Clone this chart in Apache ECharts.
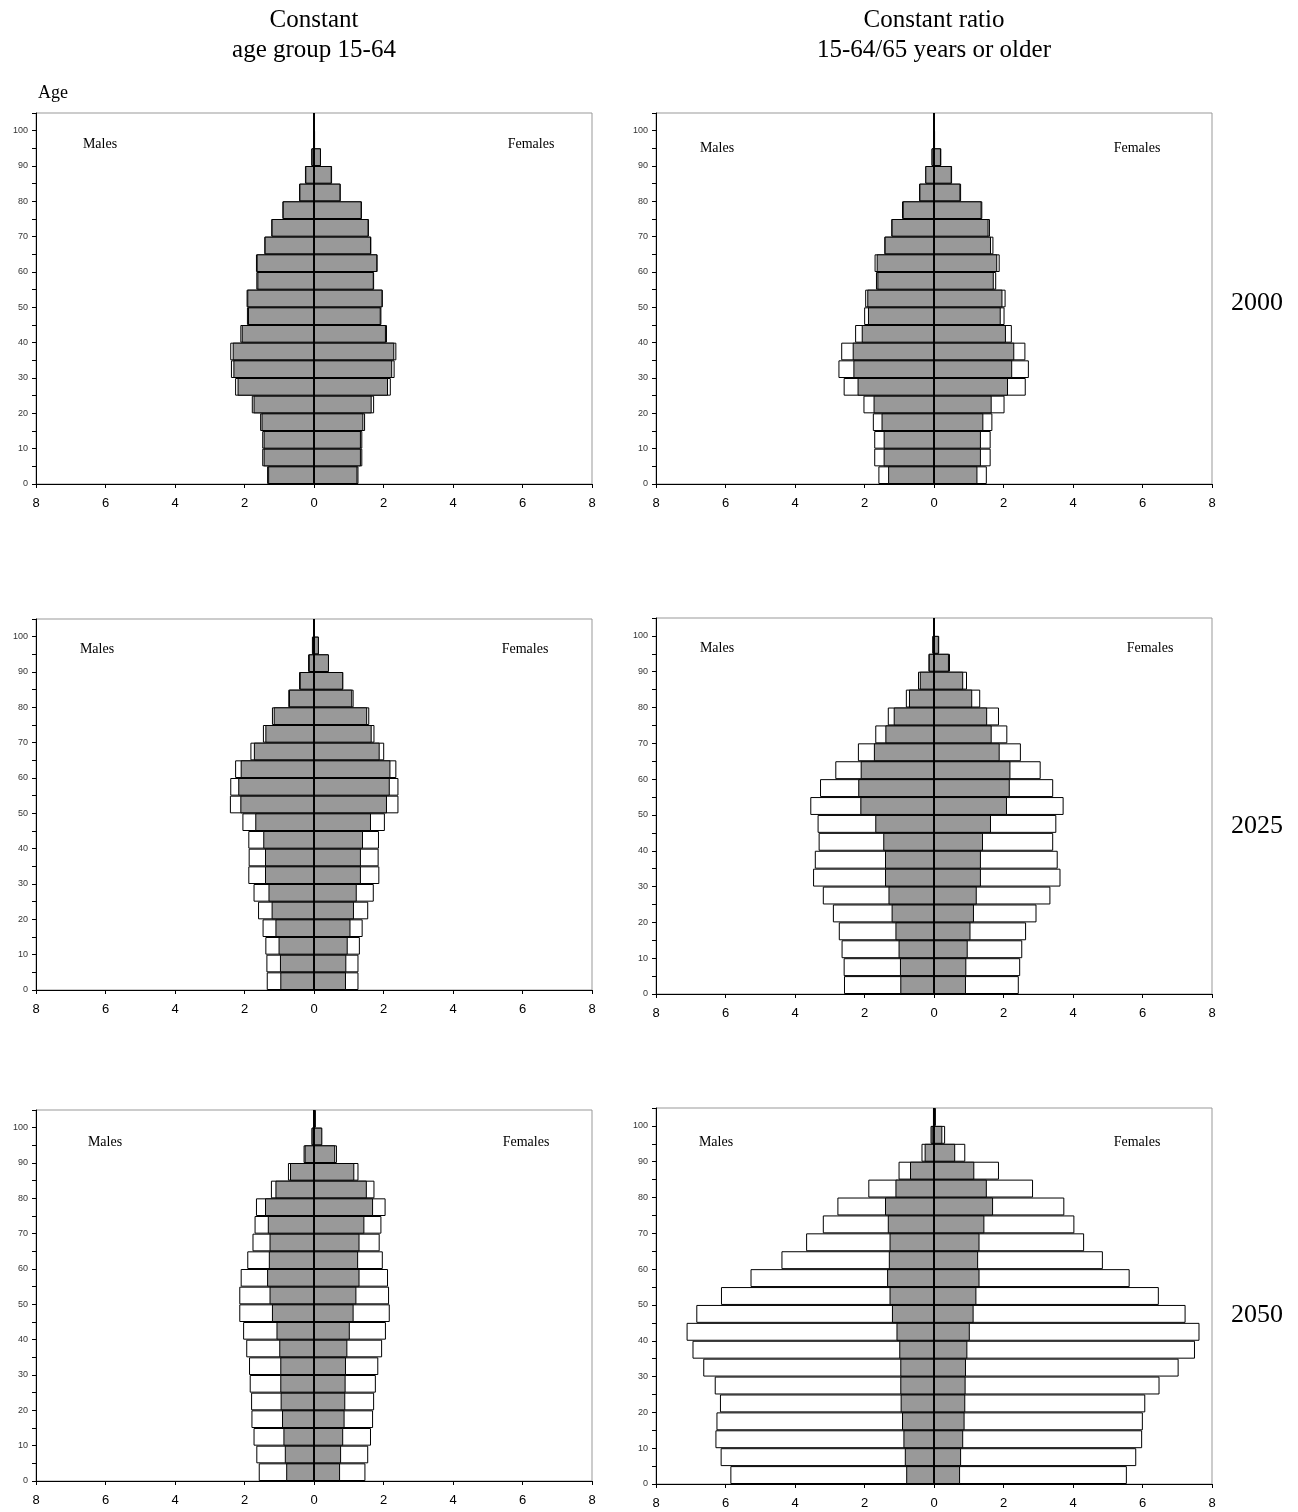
<!DOCTYPE html>
<html>
<head>
<meta charset="utf-8">
<script src="https://cdn.jsdelivr.net/npm/echarts@6/dist/echarts.min.js"></script>
<style>
html,body{margin:0;padding:0;background:#fff;}
#chart{width:1298px;height:1512px;}
</style>
</head>
<body>
<div id="chart"></div>
<script>
// Age groups (bottom to top), 5-year bands
const ageGroups = ['0-4','5-9','10-14','15-19','20-24','25-29','30-34','35-39','40-44','45-49',
  '50-54','55-59','60-64','65-69','70-74','75-79','80-84','85-89','90-94','95-99','100+'];

// Column and row labels
const columnTitles = [['Constant', 'age group 15-64'], ['Constant ratio', '15-64/65 years or older']];
const yearLabels = ['2000', '2025', '2050'];

// Base population (grey bars), % of total, by sex
const base2000Males   = [1.32,1.45,1.45,1.51,1.74,2.20,2.32,2.34,2.08,1.90,1.92,1.63,1.65,1.42,1.22,0.90,0.42,0.25,0.07,0.02,0.01];
const base2000Females = [1.25,1.35,1.35,1.42,1.66,2.13,2.25,2.31,2.07,1.92,1.97,1.72,1.82,1.64,1.57,1.37,0.76,0.51,0.20,0.03,0.01];
const base2025Males   = [0.97,0.98,1.02,1.11,1.22,1.31,1.41,1.41,1.46,1.69,2.12,2.18,2.11,1.73,1.40,1.16,0.72,0.41,0.15,0.05,0.01];
const base2025Females = [0.92,0.93,0.97,1.05,1.15,1.23,1.35,1.35,1.41,1.64,2.10,2.18,2.20,1.89,1.66,1.53,1.10,0.84,0.43,0.14,0.02];
const base2050Males   = [0.80,0.84,0.88,0.92,0.96,0.97,0.97,1.00,1.08,1.21,1.28,1.35,1.30,1.28,1.33,1.41,1.11,0.69,0.27,0.07,0.02];
const base2050Females = [0.75,0.78,0.84,0.88,0.90,0.91,0.92,0.96,1.03,1.14,1.22,1.31,1.27,1.31,1.45,1.70,1.52,1.16,0.61,0.24,0.05];

// Scenario: constant age group 15-64 (white bars)
const const2000Males   = [1.35,1.49,1.49,1.55,1.79,2.27,2.39,2.41,2.12,1.93,1.94,1.66,1.67,1.43,1.23,0.91,0.43,0.26,0.08,0.02,0.01];
const const2000Females = [1.28,1.39,1.39,1.47,1.73,2.21,2.32,2.37,2.10,1.94,1.98,1.73,1.83,1.65,1.58,1.38,0.77,0.52,0.20,0.03,0.01];
const const2025Males   = [1.36,1.37,1.40,1.48,1.61,1.74,1.89,1.88,1.89,2.06,2.42,2.41,2.27,1.83,1.47,1.21,0.74,0.43,0.17,0.06,0.01];
const const2025Females = [1.28,1.28,1.32,1.40,1.56,1.72,1.88,1.86,1.87,2.04,2.43,2.43,2.37,2.02,1.74,1.59,1.14,0.84,0.42,0.14,0.02];
const const2050Males   = [1.59,1.66,1.74,1.80,1.81,1.85,1.87,1.95,2.04,2.15,2.15,2.11,1.92,1.77,1.71,1.67,1.24,0.75,0.30,0.07,0.02];
const const2050Females = [1.48,1.56,1.64,1.70,1.73,1.78,1.85,1.96,2.07,2.18,2.16,2.13,1.98,1.89,1.94,2.06,1.74,1.28,0.66,0.23,0.05];

// Scenario: constant ratio 15-64 / 65+ (white bars)
const ratio2000Males   = [1.60,1.72,1.72,1.76,2.03,2.60,2.75,2.67,2.27,2.01,1.98,1.67,1.71,1.43,1.23,0.92,0.43,0.25,0.07,0.02,0.01];
const ratio2000Females = [1.52,1.63,1.63,1.68,2.03,2.64,2.73,2.63,2.24,2.03,2.06,1.79,1.89,1.71,1.61,1.39,0.78,0.52,0.21,0.03,0.01];
const ratio2025Males   = [2.59,2.60,2.66,2.74,2.91,3.20,3.48,3.43,3.32,3.35,3.56,3.28,2.84,2.19,1.69,1.33,0.81,0.46,0.16,0.04,0.01];
const ratio2025Females = [2.44,2.48,2.54,2.65,2.95,3.35,3.64,3.56,3.43,3.52,3.73,3.43,3.07,2.50,2.11,1.87,1.33,0.95,0.46,0.15,0.02];
const ratio2050Males   = [5.86,6.14,6.29,6.26,6.16,6.31,6.64,6.95,7.12,6.84,6.13,5.28,4.39,3.68,3.20,2.78,1.89,1.02,0.36,0.10,0.03];
const ratio2050Females = [5.55,5.82,5.99,6.01,6.08,6.49,7.04,7.51,7.64,7.24,6.47,5.63,4.86,4.32,4.04,3.75,2.85,1.87,0.90,0.32,0.05];

// Axis settings
const xMin = -8, xMax = 8, xInterval = 2;
const ageMin = 0, ageMax = 105, ageInterval = 5;

const panels = [
  {grid:{left:36, top:113, width:556, height:371}, bm:base2000Males, bf:base2000Females, sm:const2000Males, sf:const2000Females,
   males:[100,144], females:[531,144]},
  {grid:{left:656, top:113, width:556, height:371}, bm:base2000Males, bf:base2000Females, sm:ratio2000Males, sf:ratio2000Females,
   males:[717,148], females:[1137,148]},
  {grid:{left:36, top:619, width:556, height:371}, bm:base2025Males, bf:base2025Females, sm:const2025Males, sf:const2025Females,
   males:[97,649], females:[525,649]},
  {grid:{left:656, top:618, width:556, height:376}, bm:base2025Males, bf:base2025Females, sm:ratio2025Males, sf:ratio2025Females,
   males:[717,648], females:[1150,648]},
  {grid:{left:36, top:1110, width:556, height:371}, bm:base2050Males, bf:base2050Females, sm:const2050Males, sf:const2050Females,
   males:[105,1142], females:[526,1142]},
  {grid:{left:656, top:1108, width:556, height:376}, bm:base2050Males, bf:base2050Females, sm:ratio2050Males, sf:ratio2050Females,
   males:[716,1142], females:[1137,1142]}
];

const serif = '"Liberation Serif", "Times New Roman", serif';
const sans = '"Liberation Sans", Arial, sans-serif';

const option = {
  animation: false,
  backgroundColor: '#fff',
  grid: [], xAxis: [], yAxis: [], series: [], graphic: []
};

function textEl(x, y, t, size) {
  return {type:'text', x:x, y:y, silent:true,
    style:{text:t, font:size + 'px ' + serif, fill:'#000', textAlign:'center', textVerticalAlign:'middle', align:'center', verticalAlign:'middle'}};
}

panels.forEach((p, i) => {
  option.grid.push(Object.assign({show:true, borderColor:'#999', borderWidth:1, backgroundColor:'transparent'}, p.grid));
  option.xAxis.push({
    type:'value', gridIndex:i, min:xMin, max:xMax, interval:xInterval,
    axisLine:{show:true, onZero:false, lineStyle:{color:'#000', width:1}},
    axisTick:{show:true, length:4, lineStyle:{color:'#000'}},
    axisLabel:{formatter:v => String(Math.abs(v)), fontSize:13, fontFamily:sans, color:'#000', margin:13},
    splitLine:{show:false}
  });
  option.yAxis.push({
    type:'value', gridIndex:i, min:ageMin, max:ageMax, interval:ageInterval,
    axisLine:{show:true, onZero:false, lineStyle:{color:'#000', width:1}},
    axisTick:{show:true, length:4, lineStyle:{color:'#000'}},
    axisLabel:{formatter:v => (v % 10 === 0 ? String(v) : ''), fontSize:9, fontFamily:sans, color:'#333', margin:8},
    splitLine:{show:false}
  });
  option.yAxis.push({
    type:'category', gridIndex:i, data:ageGroups, show:false, boundaryGap:true
  });
  const yIdx = 2*i + 1;
  const barCommon = {type:'bar', xAxisIndex:i, yAxisIndex:yIdx, barGap:'-100%', barCategoryGap:'0%', silent:true};
  option.series.push(Object.assign({}, barCommon, {
    name:'scenM'+i, data:p.sm.map(v => -v),
    itemStyle:{color:'#fff', borderColor:'#000', borderWidth:1}
  }));
  option.series.push(Object.assign({}, barCommon, {
    name:'scenF'+i, data:p.sf.slice(),
    itemStyle:{color:'#fff', borderColor:'#000', borderWidth:1}
  }));
  option.series.push(Object.assign({}, barCommon, {
    name:'baseM'+i, data:p.bm.map(v => -v),
    itemStyle:{color:'#999999', borderColor:'#000', borderWidth:1}
  }));
  option.series.push(Object.assign({}, barCommon, {
    name:'baseF'+i, data:p.bf.slice(),
    itemStyle:{color:'#999999', borderColor:'#000', borderWidth:1},
    markLine:{silent:true, symbol:['none','none'], label:{show:false},
      lineStyle:{color:'#000', width:2, type:'solid'}, data:[{xAxis:0}]}
  }));
  option.graphic.push(textEl(p.males[0], p.males[1], 'Males', 14));
  option.graphic.push(textEl(p.females[0], p.females[1], 'Females', 14));
});

// Column titles
const titleX = [314, 934];
columnTitles.forEach((lines, c) => {
  lines.forEach((t, k) => {
    option.graphic.push(textEl(titleX[c], 20 + k*30, t, 25));
  });
});
// Year labels
const yearY = [303, 826, 1315];
yearLabels.forEach((t, r) => {
  option.graphic.push(textEl(1257, yearY[r], t, 26));
});
// Age axis title
option.graphic.push(textEl(53, 93, 'Age', 18));

const chart = echarts.init(document.getElementById('chart'), null, {renderer:'canvas'});
chart.setOption(option);
</script>
</body>
</html>
